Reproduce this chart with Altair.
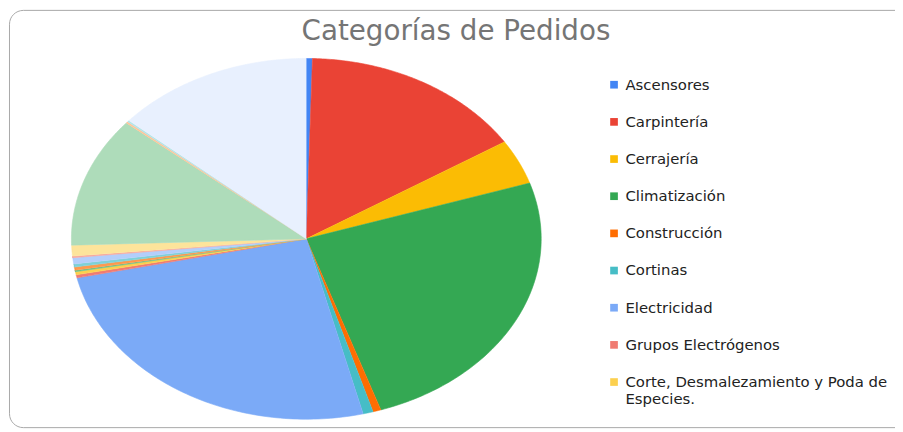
import altair as alt
import pandas as pd

# ---- data ----
categories = [
    "Ascensores",
    "Carpintería",
    "Cerrajería",
    "Climatización",
    "Construcción",
    "Cortinas",
    "Electricidad",
    "Grupos Electrógenos",
    "Corte, Desmalezamiento y Poda de Especies.",
    "Herrería",
    "Impermeabilización",
    "Limpieza",
    "Mantenimiento Preventivo",
    "Pintura",
    "Plomería",
    "Mantenimiento General",
    "Porteros",
    "Vidriería",
    "Otros",
]
values = [3, 112, 29, 179, 4, 5, 183, 2, 2, 1, 2, 2, 4, 1, 7, 84, 1, 1, 98]
colors = [
    "#4285F4", "#EA4335", "#FBBC04", "#34A853", "#FF6D01", "#46BDC6",
    "#7BAAF7", "#F07B72", "#FCD04F", "#71C287", "#FF994D", "#7ED1D7",
    "#B3CEFB", "#F7A7A0", "#FDE49B", "#AEDCBA", "#FFC599", "#B5E4E8",
    "#E8F0FE",
]
legend_shown = categories[:9]
title_text = ["Categorías de Pedidos"]

df = pd.DataFrame({"categoria": categories, "pedidos": values,
                   "orden": list(range(len(categories)))})

N = 90  # points along each slice's arc

long_label = "Corte, Desmalezamiento y Poda de Especies."
label_expr = ("datum.label == '" + long_label +
              "' ? ['Corte, Desmalezamiento y Poda de', 'Especies.'] : datum.label")

color_scale = alt.Scale(domain=categories, range=colors)

pie = alt.Chart(df).transform_window(
    acumulado="sum(pedidos)", sort=[alt.SortField("orden")], frame=[None, 0]
).transform_joinaggregate(
    total="sum(pedidos)"
).transform_calculate(
    a0="2*PI*(datum.acumulado - datum.pedidos)/datum.total",
    a1="2*PI*datum.acumulado/datum.total",
    paso=f"sequence(0, {N + 2})",
).transform_flatten(
    ["paso"]
).transform_calculate(
    ang=f"datum.a0 + (datum.a1 - datum.a0) * (datum.paso - 1) / {N}",
    px="datum.paso == 0 ? 0 : sin(datum.ang)",
    py="datum.paso == 0 ? 0 : cos(datum.ang)",
).mark_line(strokeWidth=0.6, interpolate="linear").encode(
    x=alt.X("px:Q", scale=alt.Scale(domain=[-1, 1], nice=False, zero=False), axis=None),
    y=alt.Y("py:Q", scale=alt.Scale(domain=[-1, 1], nice=False, zero=False), axis=None),
    order=alt.Order("paso:Q"),
    detail="categoria:N",
    fill=alt.Fill(
        "categoria:N", scale=color_scale,
        legend=alt.Legend(
            title=None, orient="none", legendX=540, legendY=19,
            values=legend_shown, symbolType="square", symbolSize=60,
            symbolStrokeWidth=0, labelFont="DejaVu Sans", labelFontSize=15,
            labelColor="#222222", labelOffset=4, rowPadding=21.5,
            labelLimit=400, padding=0, labelExpr=label_expr,
        ),
    ),
    stroke=alt.Stroke("categoria:N", scale=color_scale, legend=None),
)

frame = alt.Chart(pd.DataFrame({"k": [0]})).mark_rect(
    fill="transparent", stroke="#a8a8a8", strokeWidth=1, cornerRadius=14
).encode(
    x=alt.value(-62.5), x2=alt.value(960), y=alt.value(-48.5), y2=alt.value(372.5)
)

title = alt.Chart(pd.DataFrame({"titulo": title_text})).mark_text(
    font="DejaVu Sans", fontSize=28, fontWeight="normal", color="#757575",
    align="center", baseline="alphabetic",
).encode(
    x=alt.value(388), y=alt.value(-19), text="titulo:N"
)

chart = alt.layer(frame, pie, title).properties(
    width=474,
    height=364,
    autosize=alt.AutoSizeParams(type="none"),
    padding={"left": 64, "top": 49, "right": 357, "bottom": 11},
).configure_view(strokeWidth=0)

chart.save("out.html", embed_options={"renderer": "svg", "actions": False})
